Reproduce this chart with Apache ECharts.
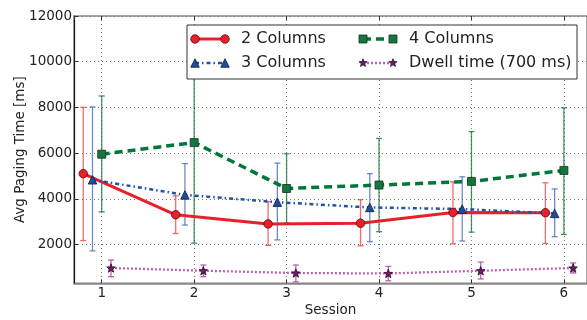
<!DOCTYPE html>
<html><head><meta charset="utf-8">
<script src="https://cdn.jsdelivr.net/npm/echarts@6/dist/echarts.min.js"></script>
<style>html,body{margin:0;padding:0;background:#fff}#c{width:587px;height:320px}</style>
</head><body><div id="c"></div>
<script>
const sessions = [1, 2, 3, 4, 5, 6];
const seriesNames = ['2 Columns', '3 Columns', '4 Columns', 'Dwell time (700 ms)'];
const cols2 = [5100, 3300, 2900, 2930, 3400, 3390];
const cols2Low = [2170, 2480, 1960, 1940, 2030, 2040];
const cols2High = [8000, 4130, 3870, 3960, 4740, 4700];
const cols3 = [4830, 4170, 3850, 3620, 3550, 3360];
const cols3Low = [1720, 2850, 2200, 2120, 2150, 2340];
const cols3High = [8020, 5540, 5560, 5100, 4960, 4430];
const cols4 = [5950, 6460, 4450, 4600, 4760, 5240];
const cols4Low = [3430, 2060, 2940, 2560, 2540, 2440];
const cols4High = [8500, 10860, 5970, 6640, 6940, 7980];
const dwell = [970, 850, 750, 730, 850, 970];
const dwellLow = [590, 590, 360, 410, 490, 750];
const dwellHigh = [1320, 1100, 1100, 1040, 1230, 1190];

const FONT = 'DejaVu Sans';
const S = [
  {off: -0.2, line: '#e8202a', lw: 3, type: 'solid', sym: 'circle', size: 8.5, fill: '#e8202a', edge: '#6a0010', err: 'rgba(236,70,70,0.8)'},
  {off: -0.1, line: '#2152a8', lw: 2.5, type: [4, 3, 1.5, 3], sym: 'triangle', size: 8.5, fill: '#1f4e9c', edge: '#0c1c40', err: 'rgba(60,100,180,0.75)'},
  {off: 0.0, line: '#00773a', lw: 3.5, type: [8, 5], sym: 'rect', size: 8, fill: '#13773e', edge: '#1a2e22', err: 'rgba(20,120,60,0.8)'},
  {off: 0.1, line: '#c060b0', lw: 2.3, type: [2, 2], sym: 'star', size: 8.5, fill: '#6a2060', edge: '#2a0a28', err: 'rgba(180,70,170,0.85)'}
];
const vals = [cols2, cols3, cols4, dwell];
const lows = [cols2Low, cols3Low, cols4Low, dwellLow];
const highs = [cols2High, cols3High, cols4High, dwellHigh];

function starPts(cx, cy, R, r) {
  const p = [];
  for (let i = 0; i < 10; i++) {
    const a = -Math.PI / 2 + i * Math.PI / 5;
    const rr = i % 2 ? r : R;
    p.push([cx + rr * Math.cos(a), cy + rr * Math.sin(a)]);
  }
  return p;
}
const starPath = 'path://' + starPts(10, 10, 10, 4.2).map((q, i) => (i ? 'L' : 'M') + q[0].toFixed(2) + ',' + q[1].toFixed(2)).join(' ') + ' Z';
function symOf(s) { return s === 'star' ? starPath : s; }

const series = [];
S.forEach((st, k) => {
  const errData = sessions.map((x, i) => [x + st.off, lows[k][i], highs[k][i]]);
  series.push({
    type: 'custom', name: seriesNames[k] + ' err', z: 1, silent: true,
    data: errData, encode: {x: 0, y: [1, 2]},
    renderItem: function (params, api) {
      const x = api.value(0);
      const lo = api.coord([x, api.value(1)]);
      const hi = api.coord([x, api.value(2)]);
      const w = 3;
      const style = {stroke: st.err, lineWidth: 1.3};
      return {type: 'group', children: [
        {type: 'line', shape: {x1: lo[0], y1: lo[1], x2: hi[0], y2: hi[1]}, style: style},
        {type: 'line', shape: {x1: lo[0] - w, y1: lo[1], x2: lo[0] + w, y2: lo[1]}, style: style},
        {type: 'line', shape: {x1: hi[0] - w, y1: hi[1], x2: hi[0] + w, y2: hi[1]}, style: style}
      ]};
    }
  });
  series.push({
    type: 'line', name: seriesNames[k], z: 3,
    data: sessions.map((x, i) => [x + st.off, vals[k][i]]),
    symbol: symOf(st.sym), symbolSize: st.size, showAllSymbol: true,
    lineStyle: {color: st.line, width: st.lw, type: st.type},
    itemStyle: {color: st.fill, borderColor: st.edge, borderWidth: 0.8},
    animation: false
  });
});

const legItems = [
  {k: 0, x: 195, y: 39}, {k: 2, x: 363, y: 39},
  {k: 1, x: 195, y: 63}, {k: 3, x: 363, y: 63}
];
const graphics = [{type: 'rect', shape: {x: 187, y: 25, width: 390, height: 54}, style: {fill: '#fff', stroke: '#333', lineWidth: 1}, z: 100}];
function marker(st, cx, cy) {
  const st2 = {fill: st.fill, stroke: st.edge, lineWidth: 0.8};
  const h = st.size / 2;
  if (st.sym === 'circle') return {type: 'circle', shape: {cx: cx, cy: cy, r: h}, style: st2, z: 102};
  if (st.sym === 'rect') return {type: 'rect', shape: {x: cx - h, y: cy - h, width: st.size, height: st.size}, style: st2, z: 102};
  if (st.sym === 'triangle') return {type: 'polygon', shape: {points: [[cx, cy - h], [cx + h, cy + h], [cx - h, cy + h]]}, style: st2, z: 102};
  return {type: 'polygon', shape: {points: starPts(cx, cy, h, h * 0.42)}, style: st2, z: 102};
}
legItems.forEach(it => {
  const st = S[it.k];
  graphics.push({type: 'line', shape: {x1: it.x, y1: it.y, x2: it.x + 30, y2: it.y},
    style: {stroke: st.line, lineWidth: st.lw, lineDash: st.type === 'solid' ? null : st.type}, z: 101});
  graphics.push(marker(st, it.x, it.y));
  graphics.push(marker(st, it.x + 30, it.y));
  graphics.push({type: 'text', x: it.x + 46, y: it.y, style: {text: seriesNames[it.k], font: '16px "' + FONT + '"', fill: '#222', verticalAlign: 'middle'}, z: 102});
});

const tickStyle = {show: true, inside: true, length: 4, lineStyle: {color: '#333', width: 1}};
const split = {show: true, lineStyle: {color: '#777', width: 1, type: [1, 3]}};
const option = {
  animation: false,
  backgroundColor: '#fff',
  textStyle: {fontFamily: FONT},
  grid: {left: 74, top: 16, right: 0, bottom: 36.7, containLabel: false, outerBoundsMode: 'none',
    show: true, borderColor: '#888', borderWidth: 1.5, backgroundColor: 'transparent'},
  xAxis: [{
    type: 'value', min: 0.7, max: 6.25,
    name: 'Session', nameLocation: 'middle', nameGap: 20, nameMoveOverlap: false,
    nameTextStyle: {fontSize: 13.5, color: '#222', fontFamily: FONT},
    axisLine: {show: true, lineStyle: {color: '#888', width: 1.5}},
    axisTick: tickStyle, splitLine: split,
    axisLabel: {fontSize: 13.5, color: '#222', margin: 3, showMinLabel: false, showMaxLabel: false, fontFamily: FONT}
  }, {
    type: 'value', min: 0.7, max: 6.25, position: 'top',
    axisLine: {show: false}, axisTick: tickStyle, axisLabel: {show: false}, splitLine: {show: false}
  }],
  yAxis: {
    type: 'value', min: 300, max: 12000,
    name: 'Avg Paging Time [ms]', nameLocation: 'middle', nameGap: 47, nameMoveOverlap: false,
    nameTextStyle: {fontSize: 13.5, color: '#222', fontFamily: FONT},
    axisLine: {show: true, lineStyle: {color: '#111', width: 1.2}},
    axisTick: tickStyle, splitLine: split,
    axisLabel: {fontSize: 13.5, color: '#222', margin: 2, showMinLabel: false, fontFamily: FONT,
      formatter: function (v) { return String(v); }}
  },
  series: series,
  graphic: graphics
};
const chart = echarts.init(document.getElementById('c'), null, {renderer: 'canvas'});
chart.setOption(option);
</script></body></html>
